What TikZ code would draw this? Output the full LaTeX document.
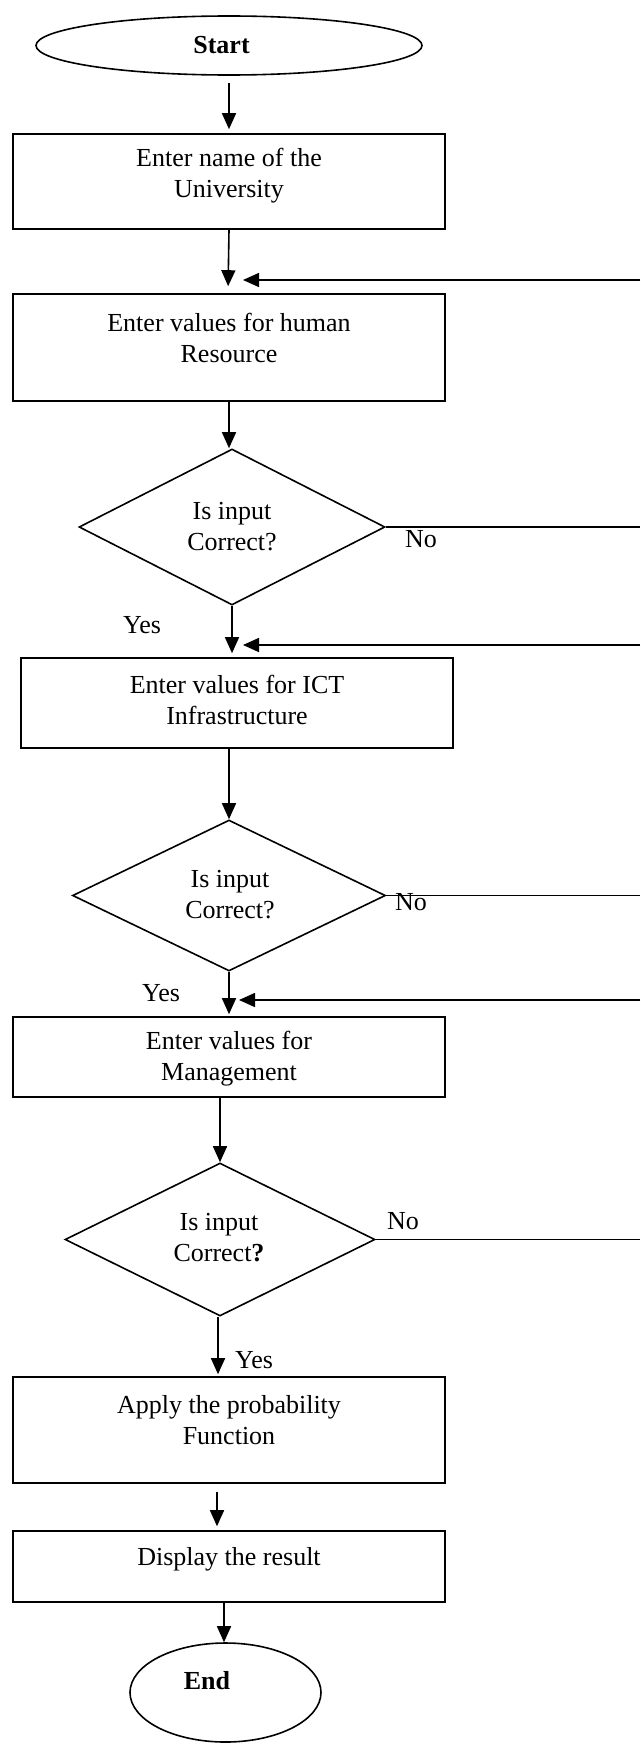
\documentclass[tikz,border=0pt]{standalone}
\usepackage{fontspec}
\setmainfont{Liberation Serif}
\usetikzlibrary{shapes.geometric,arrows.meta}
\begin{document}
\begin{tikzpicture}[x=1pt,y=1pt,
  line width=1.6pt,
  box/.style={draw, rectangle, minimum width=432pt, inner sep=0pt},
  dia/.style={draw, diamond, inner sep=0pt},
  oval/.style={draw, ellipse, inner sep=0pt},
  txt/.style={align=center, font=\fontsize{26}{31}\selectfont, inner sep=0pt},
  btxt/.style={align=center, font=\fontsize{26}{31}\selectfont\bfseries, inner sep=0pt},
  arr/.style={-{Triangle[length=16pt,width=14pt]}},
  line/.style={-}
]
\useasboundingbox (0,0) rectangle (640,-1745);

% shapes
\node[oval, minimum width=386pt, minimum height=59pt] (start) at (229,-45.5) {};
\node[box, minimum height=95pt] (b1) at (229,-181.5) {};
\node[box, minimum height=107pt] (b2) at (229,-347.5) {};
\node[dia, minimum width=306pt, minimum height=156pt] (d1) at (232,-527) {};
\node[box, minimum height=90pt] (b3) at (237,-703) {};
\node[dia, minimum width=313pt, minimum height=151pt] (d2) at (229,-895.5) {};
\node[box, minimum height=80pt] (b4) at (229,-1057) {};
\node[dia, minimum width=310pt, minimum height=153pt] (d3) at (220,-1239.5) {};
\node[box, minimum height=106pt] (b5) at (229,-1430) {};
\node[box, minimum height=71pt] (b6) at (229,-1566.5) {};
\node[oval, minimum width=191pt, minimum height=99pt] (end) at (225.5,-1692.5) {};

% texts
\node[btxt] (tstart) at (221.5,-45) {Start};
\node[txt] (t1) at (229,-176) {Enter name of the\\University};
\node[txt] (t2) at (229,-338) {Enter values for human\\Resource};
\node[txt] (td1) at (232,-526.5) {Is input\\Correct?};
\node[txt] (t3) at (237,-700) {Enter values for ICT\\Infrastructure};
\node[txt] (td2) at (230,-895) {Is input\\Correct?};
\node[txt] (t4) at (229,-1059) {Enter values for\\Management};
\node[txt] (td3) at (219,-1238) {Is input\\Correct\textbf{?}};
\node[txt] (t5) at (229,-1420) {Apply the probability\\Function};
\node[txt] (t6) at (229,-1559) {Display the result};
\node[btxt] (tend) at (207,-1681) {End};

% labels
\node[txt] (no1) at (421,-539) {No};
\node[txt] (no2) at (411,-902) {No};
\node[txt] (no3) at (403,-1221) {No};
\node[txt] (yes1) at (142,-625) {Yes};
\node[txt] (yes2) at (161,-993) {Yes};
\node[txt] (yes3) at (254,-1360) {Yes};

% right-edge coordinates
\coordinate (r2) at (640,-280);
\coordinate (f2) at (243,-280);
\coordinate (r3) at (640,-645);
\coordinate (f3) at (243,-645);
\coordinate (r4) at (640,-1000);
\coordinate (f4) at (239,-1000);
\coordinate (n1) at (640,-527);
\coordinate (n2) at (640,-895.5);
\coordinate (n3) at (640,-1239.5);

% main flow
\draw[arr, shorten <=7pt, shorten >=4pt] (start.south) -- (start.south |- b1.north);
\draw[arr, shorten >=7pt] (b1.south) -- ([xshift=-1pt]b2.north);
\draw[arr] (b2.south) -- (b2.south |- d1.north);
\draw[arr, shorten >=4pt] (d1.south) -- (d1.south |- b3.north);
\draw[arr] (d2.north |- b3.south) -- (d2.north);
\draw[arr, shorten >=2pt] (d2.south) -- (d2.south |- b4.north);
\draw[arr] (d3.north |- b4.south) -- (d3.north);
\draw[arr, shorten >=2pt] ([xshift=-2pt]d3.south) -- ([xshift=-2pt]d3.south |- b5.north);
\draw[arr, shorten <=8pt, shorten >=4pt] ([xshift=-12pt]b5.south) -- ([xshift=-12pt]b6.north);
\draw[arr] ([xshift=-5pt]b6.south) -- ([xshift=-5pt]b6.south |- end.north);

% feedback
\draw[arr] (r2) -- (f2);
\draw[arr] (r3) -- (f3);
\draw[arr] (r4) -- (f4);
\draw[line] (d1.east) -- (n1);
\draw[line] (d2.east) -- (n2);
\draw[line] (d3.east) -- (n3);
\end{tikzpicture}
\end{document}
